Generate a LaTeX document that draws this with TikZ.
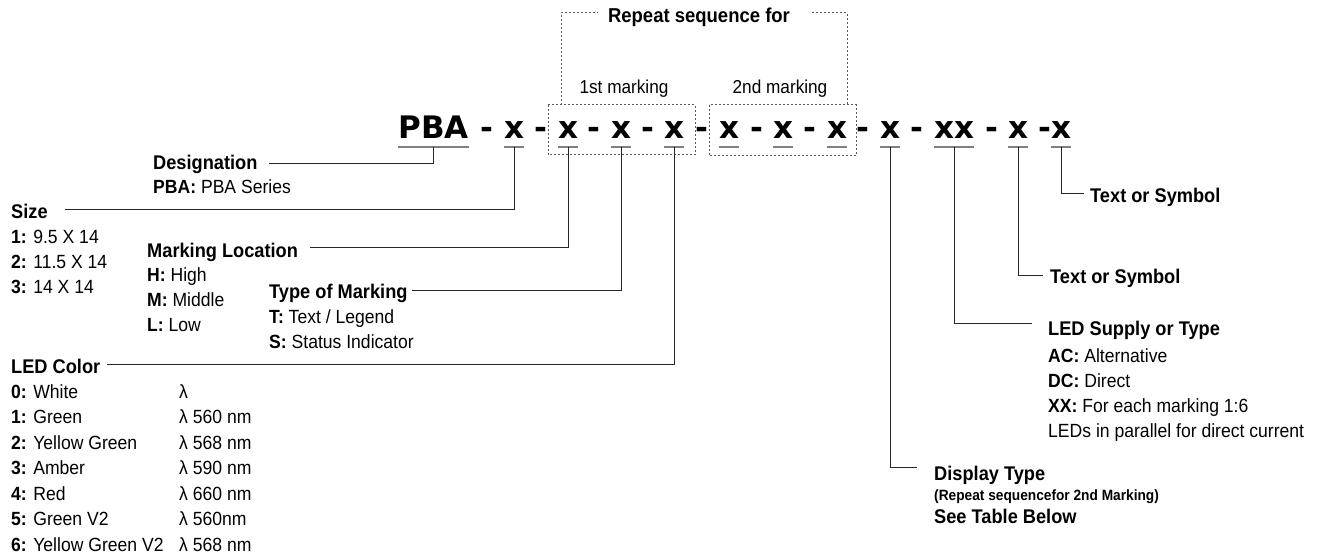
\documentclass[tikz,border=0pt]{standalone}
\usepackage{fontspec}
\setmainfont{Liberation Sans}[FakeStretch=0.92]
\newfontfamily\codefont{DejaVu Sans}
\usetikzlibrary{positioning,calc}

\definecolor{linegray}{gray}{0.15}
\definecolor{ulgray}{gray}{0.5}
\definecolor{dotgray}{gray}{0.35}

\tikzset{
  code/.style={font=\codefont\bfseries\fontsize{31}{31}\selectfont, inner xsep=0pt, inner ysep=0pt, text depth=8pt, anchor=base},
  head/.style={font=\fontsize{19.8}{24}\selectfont\bfseries, inner sep=0pt, anchor=base west},
  item/.style={font=\fontsize{19.1}{25}\selectfont, inner sep=0pt, anchor=base west},
  note/.style={font=\fontsize{14.9}{16}\selectfont\bfseries, inner sep=0pt, anchor=base west},
  conn/.style={draw=linegray, line width=1pt, shorten >=8pt},
  uline/.style={draw=ulgray, line width=1.5pt},
  dotline/.style={draw=dotgray, line width=1pt, dash pattern=on 2pt off 2pt}
}

\begin{document}
\begin{tikzpicture}[x=1pt,y=-1pt]
\useasboundingbox (0,0) rectangle (1317,559);

% part number
\node[code] (pba) at (433.5,139) {PBA};
\node[code] (sz) at (514,139) {x};
\node[code] (loc) at (568,139) {x};
\node[code] (typ) at (621,139) {x};
\node[code] (led) at (674,139) {x};
\node[code] (loc2) at (729,139) {x};
\node[code] (typ2) at (783,139) {x};
\node[code] (led2) at (837,139) {x};
\node[code] (disp) at (890,139) {x};
\node[code] (sup) at (954,139) {xx};
\node[code] (symA) at (1018,139) {x};
\node[code] (symB) at (1061,139) {x};
\foreach \x [count=\i] in {487,541,594,648,702,757,810,863,917,992,1045}
  \node[code] (dash\i) at (\x,139) {-};
\foreach \n in {pba,sz,loc,typ,led,loc2,typ2,led2,disp,sup,symA,symB}
  \draw[uline] (\n.south west) -- (\n.south east);

% repeat boxes
\draw[dotline] (548,105) rectangle (695,155);
\draw[dotline] (709,105) rectangle (856,156);
\node[font=\fontsize{18.7}{20}\selectfont, inner sep=0pt, anchor=base] (mark1) at (624,94) {1st marking};
\node[font=\fontsize{18.7}{20}\selectfont, inner sep=0pt, anchor=base] (mark2) at (780,94) {2nd marking};
\node[font=\fontsize{20.1}{22}\selectfont\bfseries, inner sep=0pt, anchor=base] (rep) at (699,23) {Repeat sequence for};
\draw[dotline] (561,105) |- (598,13);
\draw[dotline] (812,13) -| (847,105);

% left labels
\node[head] (desig) at (153,169) {Designation};
\node[item] (desig-1) at (153,193) {\textbf{PBA:} PBA Series};

\node[head] (size) at (11,218) {Size};
\node[item] (size-1) at (11,243) {\textbf{1:} 9.5 X 14};
\node[item] (size-2) at (11,268) {\textbf{2:} 11.5 X 14};
\node[item] (size-3) at (11,293) {\textbf{3:} 14 X 14};

\node[head] (mloc) at (147,257) {Marking Location};
\node[item] (mloc-1) at (147,281) {\textbf{H:} High};
\node[item] (mloc-2) at (147,306) {\textbf{M:} Middle};
\node[item] (mloc-3) at (147,331) {\textbf{L:} Low};

\node[head] (tom) at (269,298) {Type of Marking};
\node[item] (tom-1) at (269,323) {\textbf{T:} Text / Legend};
\node[item] (tom-2) at (269,348) {\textbf{S:} Status Indicator};

\node[head] (ledc) at (11,373) {LED Color};
\foreach \k/\c/\w [count=\i from 0] in {0/White/{}, 1/Green/560 nm, 2/Yellow Green/568 nm, 3/Amber/590 nm, 4/Red/660 nm, 5/Green V2/560nm, 6/Yellow Green V2/568 nm}{
  \node[item] (ledc-\i) at (11,398+25.5*\i) {\textbf{\k:} \c};
  \node[item] (wave-\i) at (179,398+25.5*\i) {λ \w};
}

% right labels
\node[head] (tos1) at (1090,202) {Text or Symbol};
\node[head] (tos2) at (1050,283) {Text or Symbol};

\node[head] (supply) at (1048,335) {LED Supply or Type};
\node[item] (supply-1) at (1048,362) {\textbf{AC:} Alternative};
\node[item] (supply-2) at (1048,387) {\textbf{DC:} Direct};
\node[item] (supply-3) at (1048,412) {\textbf{XX:} For each marking 1:6};
\node[item] (supply-4) at (1048,437) {LEDs in parallel for direct current};

\node[head] (dtype) at (934,480) {Display Type};
\node[note] (dtype-1) at (934,500) {(Repeat sequencefor 2nd Marking)};
\node[head] (dtype-2) at (934,523) {See Table Below};

% connectors
\draw[conn, shorten >=11pt] (pba.south) |- (desig.east);
\draw[conn, shorten >=17pt] (sz.south) |- ([yshift=1pt]size.east);
\draw[conn, shorten >=12pt] (loc.south) |- ([yshift=4pt]mloc.east);
\draw[conn, shorten >=4pt] (typ.south) |- ([yshift=2pt]tom.east);
\draw[conn, shorten >=7pt] (led.south) |- ([yshift=1pt]ledc.east);
\draw[conn, shorten >=6pt] (symB.south) |- ([yshift=3pt]tos1.west);
\draw[conn, shorten >=7pt] (symA.south) |- ([yshift=2pt]tos2.west);
\draw[conn, shorten >=16pt] (sup.south) |- ([yshift=6pt]supply.west);
\draw[conn, shorten >=17pt] (disp.south) |- ([yshift=7pt]dtype.west);
\end{tikzpicture}
\end{document}
